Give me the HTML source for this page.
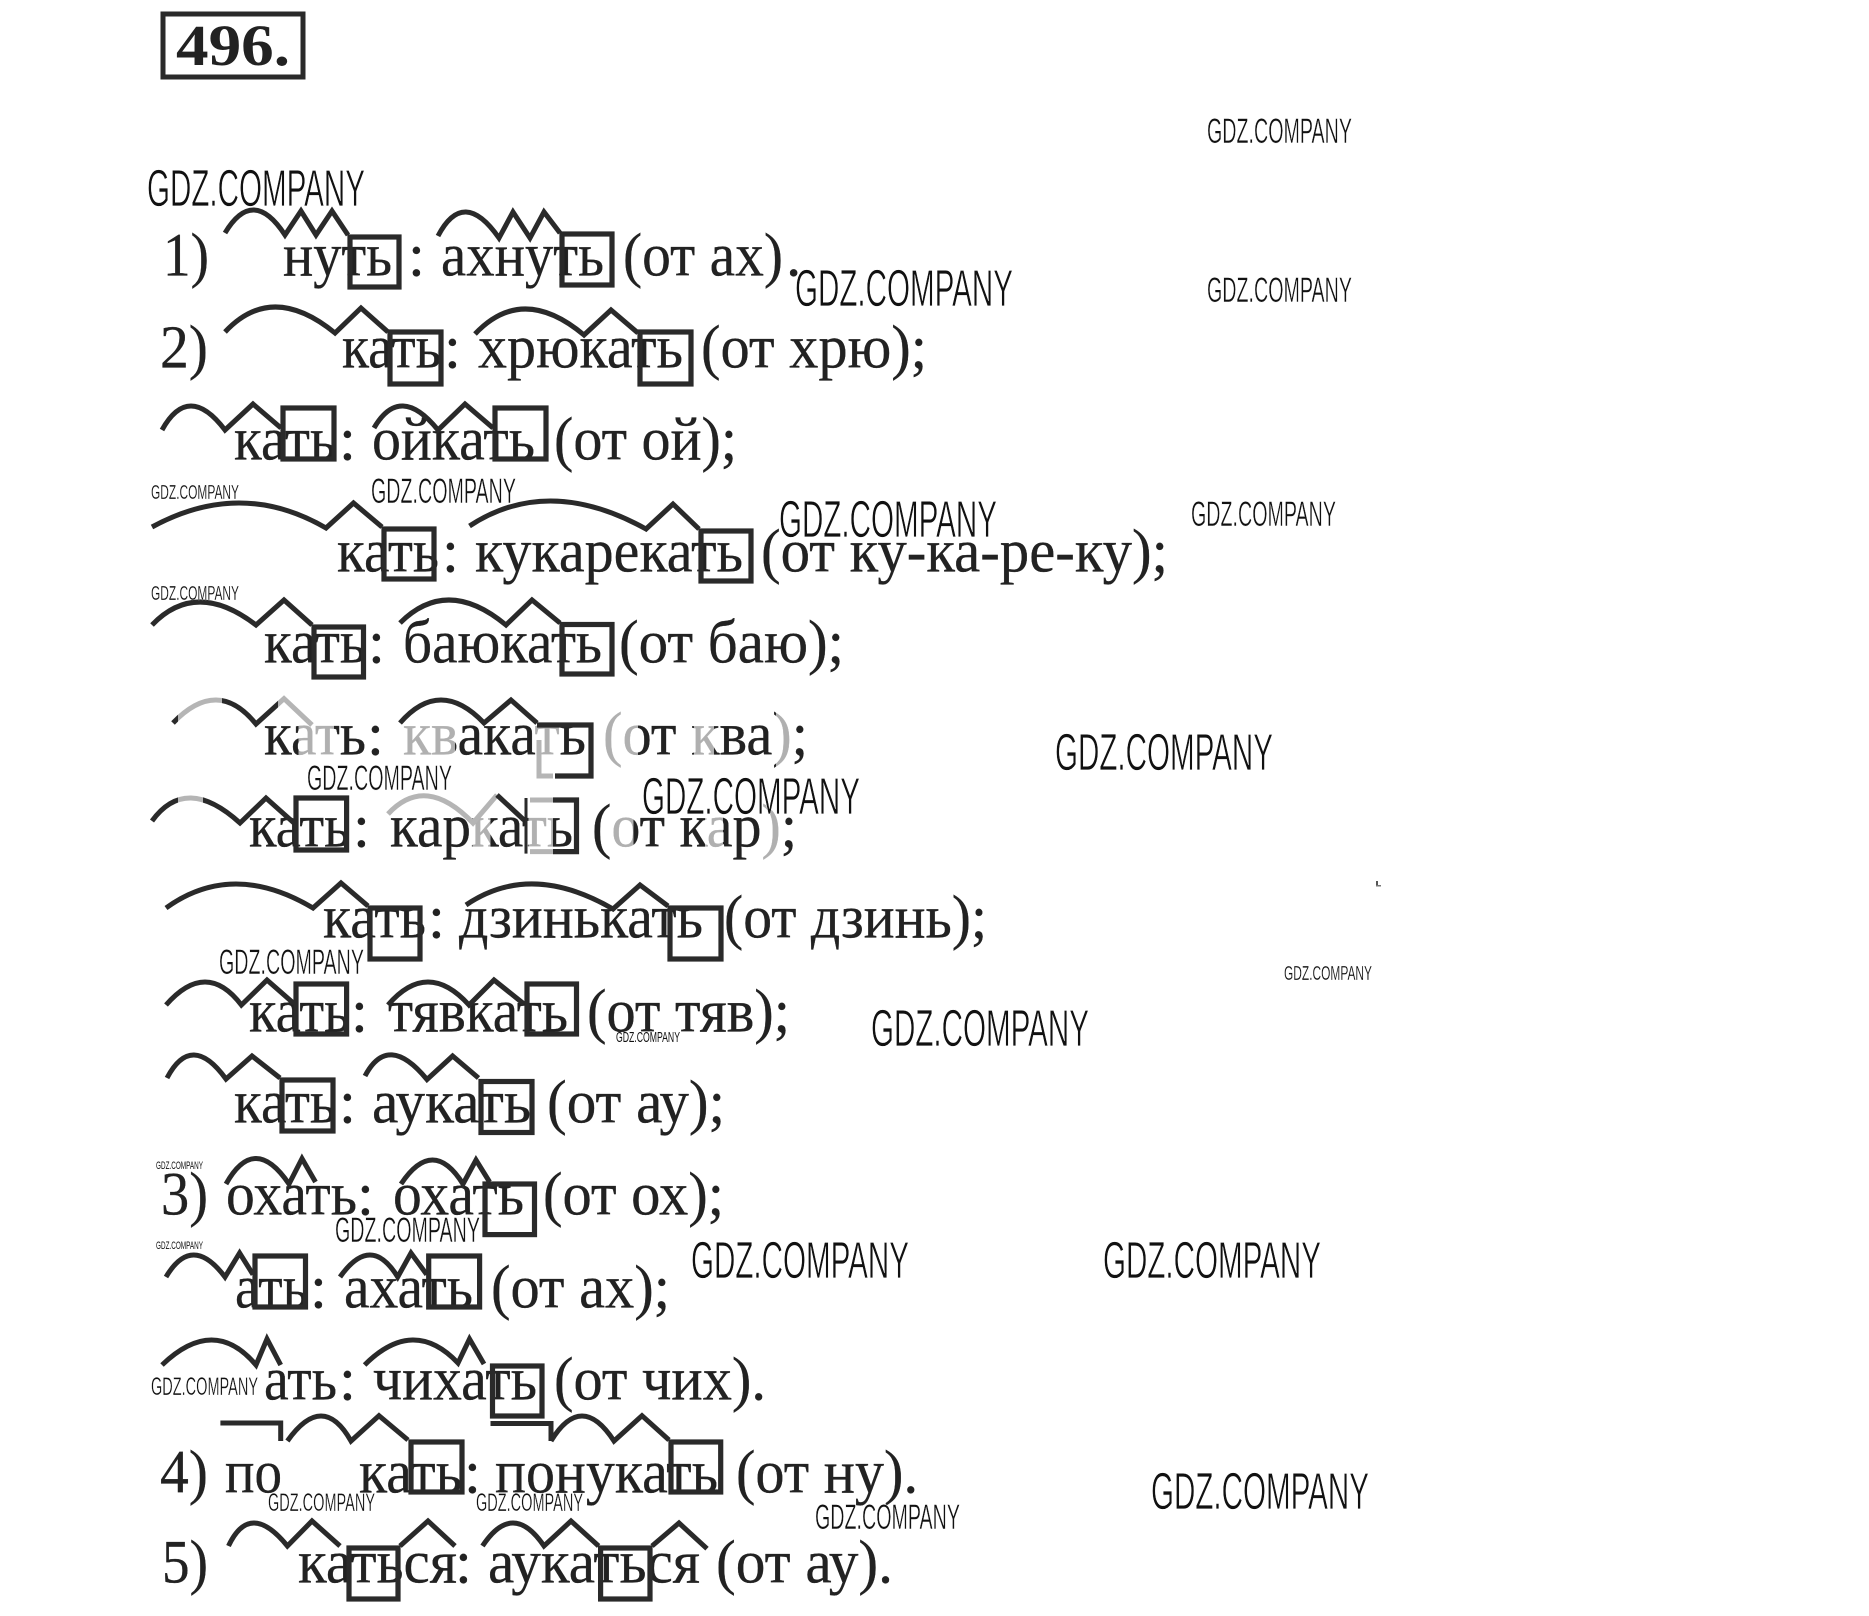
<!DOCTYPE html>
<html lang="ru"><head><meta charset="utf-8"><title>496</title>
<style>
html,body{margin:0;padding:0;background:#fff}
svg{display:block}
.t{font-family:"Liberation Serif",serif;font-size:61px;fill:#222;stroke:#222;stroke-width:.3}
.w{font-family:"Liberation Sans",sans-serif;fill:#111}
.a{fill:none;stroke:#2a2a2a;stroke-width:5;stroke-linejoin:miter}
.b{fill:none;stroke:#2a2a2a;stroke-width:5.2}
.g{fill:none;stroke:#b5b5b5;stroke-width:5}
</style></head><body>
<svg width="1869" height="1616" viewBox="0 0 1869 1616" xmlns="http://www.w3.org/2000/svg">
<defs>
<linearGradient id="g6" gradientUnits="userSpaceOnUse" x1="0" y1="0" x2="1000" y2="0">
<stop offset=".2986" stop-color="#222"/><stop offset=".2986" stop-color="#b0b0b0"/><stop offset=".334" stop-color="#b0b0b0"/><stop offset=".334" stop-color="#222"/>
<stop offset=".4035" stop-color="#222"/><stop offset=".4035" stop-color="#b0b0b0"/><stop offset=".455" stop-color="#b0b0b0"/><stop offset=".455" stop-color="#222"/>
<stop offset=".535" stop-color="#222"/><stop offset=".535" stop-color="#b0b0b0"/><stop offset=".56" stop-color="#b0b0b0"/><stop offset=".56" stop-color="#222"/>
<stop offset=".604" stop-color="#222"/><stop offset=".604" stop-color="#b0b0b0"/><stop offset=".638" stop-color="#b0b0b0"/><stop offset=".638" stop-color="#222"/>
<stop offset=".694" stop-color="#222"/><stop offset=".694" stop-color="#b0b0b0"/><stop offset=".714" stop-color="#b0b0b0"/><stop offset=".714" stop-color="#222"/>
<stop offset=".776" stop-color="#222"/><stop offset=".776" stop-color="#b0b0b0"/><stop offset=".794" stop-color="#b0b0b0"/><stop offset=".794" stop-color="#222"/>
</linearGradient>
<linearGradient id="g7" gradientUnits="userSpaceOnUse" x1="0" y1="0" x2="1000" y2="0">
<stop offset=".4727" stop-color="#222"/><stop offset=".4727" stop-color="#b0b0b0"/><stop offset=".4905" stop-color="#b0b0b0"/><stop offset=".4905" stop-color="#222"/>
<stop offset=".5285" stop-color="#222"/><stop offset=".5285" stop-color="#b0b0b0"/><stop offset=".553" stop-color="#b0b0b0"/><stop offset=".553" stop-color="#222"/>
<stop offset=".611" stop-color="#222"/><stop offset=".611" stop-color="#b0b0b0"/><stop offset=".6334" stop-color="#b0b0b0"/><stop offset=".6334" stop-color="#222"/>
<stop offset=".705" stop-color="#222"/><stop offset=".705" stop-color="#b0b0b0"/><stop offset=".723" stop-color="#b0b0b0"/><stop offset=".723" stop-color="#222"/>
<stop offset=".763" stop-color="#222"/><stop offset=".763" stop-color="#b0b0b0"/><stop offset=".7807" stop-color="#b0b0b0"/><stop offset=".7807" stop-color="#222"/>
</linearGradient>
<linearGradient id="g6a" gradientUnits="userSpaceOnUse" x1="0" y1="0" x2="1000" y2="0">
<stop offset=".178" stop-color="#2a2a2a"/><stop offset=".178" stop-color="#b5b5b5"/><stop offset=".222" stop-color="#b5b5b5"/><stop offset=".222" stop-color="#2a2a2a"/>
<stop offset=".278" stop-color="#2a2a2a"/><stop offset=".278" stop-color="#b5b5b5"/>
</linearGradient>
<linearGradient id="g7a" gradientUnits="userSpaceOnUse" x1="0" y1="0" x2="1000" y2="0">
<stop offset=".178" stop-color="#2a2a2a"/><stop offset=".178" stop-color="#b5b5b5"/><stop offset=".203" stop-color="#b5b5b5"/><stop offset=".203" stop-color="#2a2a2a"/>
</linearGradient>
</defs>
<rect width="1869" height="1616" fill="#fff"/>

<!-- title -->
<rect x="163" y="14" width="140" height="63" fill="none" stroke="#2a2a2a" stroke-width="5"/>
<text x="176" y="65" font-family="Liberation Serif, serif" font-weight="bold" font-size="58" fill="#222" textLength="114" lengthAdjust="spacingAndGlyphs">496.</text>

<!-- text lines -->
<g class="t" transform="translate(0,1.5)">
<text x="163" y="274" textLength="46" lengthAdjust="spacingAndGlyphs">1)</text>
<text x="283" y="274" textLength="109" lengthAdjust="spacingAndGlyphs">нуть</text>
<text x="408" y="274">:</text>
<text x="441" y="274" textLength="163" lengthAdjust="spacingAndGlyphs">ахнуть</text>
<text x="623" y="274" textLength="160" lengthAdjust="spacingAndGlyphs">(от ах)</text>
<text x="786" y="274">.</text>

<text x="160" y="366" textLength="48" lengthAdjust="spacingAndGlyphs">2)</text>
<text x="342" y="366" textLength="99" lengthAdjust="spacingAndGlyphs">кать</text>
<text x="444" y="366">:</text>
<text x="478" y="366" textLength="205" lengthAdjust="spacingAndGlyphs">хрюкать</text>
<text x="701" y="366" textLength="226" lengthAdjust="spacingAndGlyphs">(от хрю);</text>

<text x="234" y="458" textLength="102" lengthAdjust="spacingAndGlyphs">кать</text>
<text x="339" y="458">:</text>
<text x="372" y="458" textLength="163" lengthAdjust="spacingAndGlyphs">ойкать</text>
<text x="554" y="458" textLength="183" lengthAdjust="spacingAndGlyphs">(от ой);</text>

<text x="337" y="570" textLength="102" lengthAdjust="spacingAndGlyphs">кать</text>
<text x="442" y="570">:</text>
<text x="475" y="570" textLength="268" lengthAdjust="spacingAndGlyphs">кукарекать</text>
<text x="761" y="570" textLength="407" lengthAdjust="spacingAndGlyphs">(от ку-ка-ре-ку);</text>

<text x="264" y="661" textLength="102" lengthAdjust="spacingAndGlyphs">кать</text>
<text x="368" y="661">:</text>
<text x="403" y="661" textLength="199" lengthAdjust="spacingAndGlyphs">баюкать</text>
<text x="619" y="661" textLength="225" lengthAdjust="spacingAndGlyphs">(от баю);</text>

<g style="fill:url(#g6);stroke:url(#g6)">
<text x="264" y="753" textLength="102" lengthAdjust="spacingAndGlyphs">кать</text>
<text x="367" y="753">:</text>
<text x="403" y="753" textLength="183" lengthAdjust="spacingAndGlyphs">квакать</text>
<text x="603" y="753" textLength="205" lengthAdjust="spacingAndGlyphs">(от ква);</text>
</g>

<g style="fill:url(#g7);stroke:url(#g7)">
<text x="249" y="845" textLength="101" lengthAdjust="spacingAndGlyphs">кать</text>
<text x="353" y="845">:</text>
<text x="390" y="845" textLength="183" lengthAdjust="spacingAndGlyphs">каркать</text>
<text x="592" y="845" textLength="205" lengthAdjust="spacingAndGlyphs">(от кар);</text>
</g>

<text x="323" y="936" textLength="103" lengthAdjust="spacingAndGlyphs">кать</text>
<text x="428" y="936">:</text>
<text x="459" y="936" textLength="244" lengthAdjust="spacingAndGlyphs">дзинькать</text>
<text x="724" y="936" textLength="263" lengthAdjust="spacingAndGlyphs">(от дзинь);</text>

<text x="249" y="1030" textLength="101" lengthAdjust="spacingAndGlyphs">кать</text>
<text x="351" y="1030">:</text>
<text x="388" y="1030" textLength="180" lengthAdjust="spacingAndGlyphs">тявкать</text>
<text x="587" y="1030" textLength="203" lengthAdjust="spacingAndGlyphs">(от тяв);</text>

<text x="234" y="1121" textLength="102" lengthAdjust="spacingAndGlyphs">кать</text>
<text x="339" y="1121">:</text>
<text x="372" y="1121" textLength="159" lengthAdjust="spacingAndGlyphs">аукать</text>
<text x="547" y="1121" textLength="178" lengthAdjust="spacingAndGlyphs">(от ау);</text>

<text x="161" y="1213" textLength="47" lengthAdjust="spacingAndGlyphs">3)</text>
<text x="226" y="1213" textLength="131" lengthAdjust="spacingAndGlyphs">охать</text>
<text x="357" y="1213">:</text>
<text x="393" y="1213" textLength="131" lengthAdjust="spacingAndGlyphs">охать</text>
<text x="543" y="1213" textLength="181" lengthAdjust="spacingAndGlyphs">(от ох);</text>

<text x="235" y="1306" textLength="73" lengthAdjust="spacingAndGlyphs">ать</text>
<text x="310" y="1306">:</text>
<text x="344" y="1306" textLength="129" lengthAdjust="spacingAndGlyphs">ахать</text>
<text x="491" y="1306" textLength="179" lengthAdjust="spacingAndGlyphs">(от ах);</text>

<text x="264" y="1398" textLength="73" lengthAdjust="spacingAndGlyphs">ать</text>
<text x="339" y="1398">:</text>
<text x="373" y="1398" textLength="164" lengthAdjust="spacingAndGlyphs">чихать</text>
<text x="554" y="1398" textLength="212" lengthAdjust="spacingAndGlyphs">(от чих).</text>

<text x="160" y="1491" textLength="48" lengthAdjust="spacingAndGlyphs">4)</text>
<text x="225" y="1491" textLength="57" lengthAdjust="spacingAndGlyphs">по</text>
<text x="359" y="1491" textLength="103" lengthAdjust="spacingAndGlyphs">кать</text>
<text x="464" y="1491">:</text>
<text x="495" y="1491" textLength="223" lengthAdjust="spacingAndGlyphs">понукать</text>
<text x="736" y="1491" textLength="182" lengthAdjust="spacingAndGlyphs">(от ну).</text>

<text x="162" y="1581" textLength="46" lengthAdjust="spacingAndGlyphs">5)</text>
<text x="298" y="1581" textLength="159" lengthAdjust="spacingAndGlyphs">каться</text>
<text x="455" y="1581">:</text>
<text x="488" y="1581" textLength="212" lengthAdjust="spacingAndGlyphs">аукаться</text>
<text x="716" y="1581" textLength="177" lengthAdjust="spacingAndGlyphs">(от ау).</text>
</g>

<!-- arcs and zigzags -->
<g class="a">
<path d="M225 233Q253 186 285 235L301 211L316 235L332 211L348 235"/>
<path d="M438 236Q463.5 187 499 238L513 212L530 238L544 212L560 233"/>
<path d="M225 332Q272 281.5 335 333L361 308L388 332"/>
<path d="M475 334Q522.5 283.5 584 335L611 310L638 333"/>
<path d="M162 430Q188.5 382 225 430L253 404L281 428"/>
<path d="M374 428Q400 383 438 430L465 404L493 428"/>
<path d="M152 527Q241 478.5 326 528L353.5 503L382 527"/>
<path d="M469.5 526Q548 474.5 646 529L673 504L699 529"/>
<path d="M152 625Q196 579 256 625L284 600L312 625"/>
<path d="M400 623Q447 576 506 625L532 600L560 623"/>
<path style="stroke:url(#g6a)" d="M173 723Q217.5 676.5 256 724L284 698.6L312 725"/>
<path d="M400 723Q440 677 484 723L511 700L537 723"/>
<path style="stroke:url(#g7a)" d="M152 821Q186 774 240 823L266 798L294 823"/>
<path class="g" d="M388 814Q425.5 773.5 473 823L497 795"/>
<path d="M497 795L524 820"/>
<path d="M166 908Q232.5 860 313 908L341 883L368 906"/>
<path d="M466 905Q530.5 861 613 909L640 885L668 906"/>
<path d="M166 1005Q206.3 959 241.4 1005L267 980L294 1003.6"/>
<path d="M388 1005Q427.5 959 469 1005L494 980L524 1004"/>
<path d="M167 1078Q191.5 1031.5 226 1079L252 1056L280 1078"/>
<path d="M365 1076Q388 1032 427 1079.5L452.6 1056L478.5 1078"/>
<path d="M226 1184Q254.5 1133 289 1184L302 1158.6L315.5 1182"/>
<path d="M401 1184Q433 1136 463 1184L476 1160L489.6 1182"/>
<path d="M166 1277Q192 1233 225 1277L239.6 1253L253 1274.5"/>
<path d="M340 1277Q371 1233 397.7 1277L411 1253L426.7 1274.5"/>
<path d="M162 1365Q214 1315 256 1365L267 1339L280.7 1365"/>
<path d="M364.6 1365Q413.5 1316 458 1363L469.5 1339L484 1364"/>
<path d="M220.4 1423H280.7V1441"/>
<path d="M287.4 1441Q322.8 1391 351 1441L379 1415.7L408 1440"/>
<path d="M490.5 1423.5H551V1441"/>
<path d="M551 1441Q581.5 1391 614 1441L642 1415.7L669 1440"/>
<path d="M228.5 1546Q250 1500 287.4 1546L312 1521L340 1546"/>
<path d="M400 1546L428 1521L455 1546"/>
<path d="M482.5 1546Q512.75 1500 544 1546L571 1521L598.6 1546"/>
<path d="M652 1546L679 1523L707 1548.7"/>
</g>

<!-- boxes -->
<g class="b">
<rect x="350" y="237" width="49" height="50"/>
<rect x="562" y="234" width="50" height="51"/>
<rect x="390" y="332" width="51" height="52"/>
<rect x="640" y="332" width="51" height="52"/>
<rect x="283" y="408" width="51" height="51"/>
<rect x="495" y="408" width="51" height="51"/>
<rect x="384" y="529" width="50" height="50"/>
<rect x="701" y="531" width="50" height="50"/>
<rect x="314" y="627" width="49.5" height="50"/>
<rect x="562" y="624.5" width="50" height="49.5"/>
<path d="M537 725H591V776H555"/>
<path d="M296 798H346.6V850H296Z"/>
<path d="M553 800H576.5V851.6H553"/>
<path d="M526 798V853.6" style="stroke-width:3"/>
<rect x="370" y="908" width="50" height="51"/>
<rect x="670" y="908" width="51" height="51"/>
<rect x="296" y="984" width="50.6" height="50"/>
<rect x="527" y="984" width="49.5" height="50"/>
<rect x="282" y="1080" width="51" height="51"/>
<rect x="481" y="1081.5" width="51" height="51"/>
<rect x="485" y="1184" width="49.5" height="50.6"/>
<rect x="255" y="1256" width="50.5" height="51"/>
<rect x="428.7" y="1256" width="50.9" height="51"/>
<rect x="492.5" y="1366" width="49.5" height="50"/>
<rect x="411" y="1442" width="51" height="50"/>
<rect x="671" y="1442" width="49.7" height="50"/>
<rect x="349" y="1548" width="49" height="51"/>
<rect x="600.6" y="1548" width="49.4" height="51"/>
</g>
<g class="g" style="stroke-width:5">
<path d="M539 740V776H553"/>
<path d="M530 800H553M530 851.6H553"/>
</g>

<!-- watermarks -->
<g class="w">
<g font-size="52" stroke="#fff" stroke-width=".7">
<text x="147" y="206" textLength="218" lengthAdjust="spacingAndGlyphs">GDZ.COMPANY</text>
<text x="795" y="306" textLength="218" lengthAdjust="spacingAndGlyphs">GDZ.COMPANY</text>
<text x="779" y="537" textLength="218" lengthAdjust="spacingAndGlyphs">GDZ.COMPANY</text>
<text x="1055" y="770" textLength="218" lengthAdjust="spacingAndGlyphs">GDZ.COMPANY</text>
<text x="642" y="814" textLength="218" lengthAdjust="spacingAndGlyphs">GDZ.COMPANY</text>
<text x="871" y="1046" textLength="218" lengthAdjust="spacingAndGlyphs">GDZ.COMPANY</text>
<text x="691" y="1278" textLength="218" lengthAdjust="spacingAndGlyphs">GDZ.COMPANY</text>
<text x="1103" y="1278" textLength="218" lengthAdjust="spacingAndGlyphs">GDZ.COMPANY</text>
<text x="1151" y="1509" textLength="218" lengthAdjust="spacingAndGlyphs">GDZ.COMPANY</text>
</g>
<g font-size="35" stroke="#fff" stroke-width=".45">
<text x="1207" y="143" textLength="145" lengthAdjust="spacingAndGlyphs">GDZ.COMPANY</text>
<text x="1207" y="302" textLength="145" lengthAdjust="spacingAndGlyphs">GDZ.COMPANY</text>
<text x="1191" y="526" textLength="145" lengthAdjust="spacingAndGlyphs">GDZ.COMPANY</text>
<text x="371" y="503" textLength="145" lengthAdjust="spacingAndGlyphs">GDZ.COMPANY</text>
<text x="307" y="790" textLength="145" lengthAdjust="spacingAndGlyphs">GDZ.COMPANY</text>
<text x="219" y="974" textLength="145" lengthAdjust="spacingAndGlyphs">GDZ.COMPANY</text>
<text x="335" y="1242" textLength="145" lengthAdjust="spacingAndGlyphs">GDZ.COMPANY</text>
<text x="815" y="1529" textLength="145" lengthAdjust="spacingAndGlyphs">GDZ.COMPANY</text>
</g>
<g font-size="20" stroke="#fff" stroke-width=".2">
<text x="151" y="499" textLength="88" lengthAdjust="spacingAndGlyphs">GDZ.COMPANY</text>
<text x="151" y="600" textLength="88" lengthAdjust="spacingAndGlyphs">GDZ.COMPANY</text>
<text x="1284" y="980" textLength="88" lengthAdjust="spacingAndGlyphs">GDZ.COMPANY</text>
</g>
<text x="616" y="1042" font-size="15" textLength="64" lengthAdjust="spacingAndGlyphs">GDZ.COMPANY</text>
<text x="156" y="1169" font-size="11" textLength="47" lengthAdjust="spacingAndGlyphs">GDZ.COMPANY</text>
<text x="156" y="1249" font-size="11" textLength="47" lengthAdjust="spacingAndGlyphs">GDZ.COMPANY</text>
<g font-size="25" stroke="#fff" stroke-width=".3">
<text x="151" y="1395" textLength="107" lengthAdjust="spacingAndGlyphs">GDZ.COMPANY</text>
<text x="268" y="1511" textLength="107" lengthAdjust="spacingAndGlyphs">GDZ.COMPANY</text>
<text x="476" y="1511" textLength="107" lengthAdjust="spacingAndGlyphs">GDZ.COMPANY</text>
</g>
</g>
<rect x="1376" y="881" width="2" height="5" fill="#555"/><rect x="1376" y="885" width="5" height="1.5" fill="#777"/>
</svg>
</body></html>
